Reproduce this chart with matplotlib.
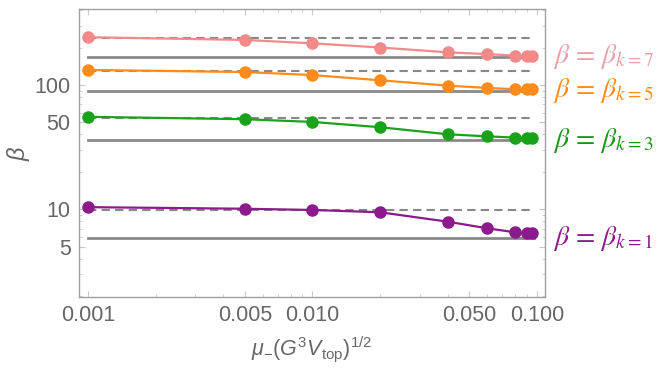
import numpy as np
import matplotlib
matplotlib.use("Agg")
import matplotlib.pyplot as plt

plt.rcParams["font.family"] = ["Liberation Sans", "DejaVu Sans"]
plt.rcParams["mathtext.fontset"] = "custom"
plt.rcParams["mathtext.rm"] = "Liberation Sans"
plt.rcParams["mathtext.it"] = "Liberation Sans:italic"

# data
mu = [0.001, 0.005, 0.01, 0.02, 0.04, 0.06, 0.08, 0.09, 0.095]
beta_k7 = [242, 230, 216, 200, 183, 177, 172, 172, 172]
beta_k5 = [132, 127, 120, 109, 98.7, 94.6, 92.3, 92.3, 92.3]
beta_k3 = [55.4, 53.0, 50.4, 45.7, 40.1, 38.6, 37.7, 37.7, 37.7]
beta_k1 = [10.4, 10.1, 9.87, 9.46, 7.95, 7.03, 6.53, 6.41, 6.41]

# reference levels: small-mu limit (dashed) and large-mu limit (solid)
dashed_levels = [239, 130.6, 54.0, 9.85]
solid_levels = [169, 90.0, 35.9, 5.85]
line_span = [0.001, 0.097]

series = [beta_k7, beta_k5, beta_k3, beta_k1]
colors = ["#f28a8a", "#ff8c1a", "#1aa31a", "#8c1a8c"]
label_colors = ["#e9a0a8", "#ff8c1a", "#1a951a", "#8c1a8c"]
labels = [r"$\beta\,=\,\beta_{k=7}$", r"$\beta\,=\,\beta_{k=5}$",
          r"$\beta\,=\,\beta_{k=3}$", r"$\beta\,=\,\beta_{k=1}$"]

fig = plt.figure(figsize=(6.64, 3.72), dpi=100)
ax = fig.add_axes([79 / 664, 1 - 297 / 372, 466 / 664, 288 / 372])

for d, s in zip(dashed_levels, solid_levels):
    ax.plot(line_span, [d, d], color="#888888", lw=1.5, ls=(0, (4, 2.5)), zorder=1)
    ax.plot(line_span, [s, s], color="#8a8a8a", lw=2.0, zorder=1)

for vals, c in zip(series, colors):
    ax.plot(mu, vals, color=c, lw=1.6, marker="o", ms=8, zorder=3)

ax.set_xscale("log")
ax.set_yscale("log")
ax.set_xlim(0.000912, 0.1086)
ax.set_ylim(1.97, 408)

ax.set_xticks([0.001, 0.005, 0.01, 0.05, 0.1])
ax.set_xticklabels(["0.001", "0.005", "0.010", "0.050", "0.100"])
ax.set_yticks([5, 10, 50, 100])
ax.set_yticklabels(["5", "10", "50", "100"])

ax.tick_params(which="both", direction="in", top=True, right=True,
               color="#c8c8c8", labelcolor="#666666", labelsize=15.5)
ax.tick_params(which="major", length=4, width=0.8, pad=6)
ax.tick_params(which="minor", length=2.5, width=0.6)
for sp in ax.spines.values():
    sp.set_color("#a0a0a0")
    sp.set_linewidth(1.0)

ax.set_xlabel(r"$\mu_{-}(G^3V_{\rm top})^{1/2}$", color="#666666", fontsize=15.5, labelpad=6)
ax.set_ylabel(r"$\beta$", color="#666666", fontsize=17, va="center")
ax.yaxis.set_label_coords(-0.13, 0.5)

for lev, lab, c in zip(solid_levels, labels, label_colors):
    ax.annotate(lab, xy=(1.0, lev), xycoords=("axes fraction", "data"),
                xytext=(6, 0), textcoords="offset points", va="center",
                ha="left", color=c, fontsize=20, math_fontfamily="stix")

fig.savefig("out.png", dpi=100)
